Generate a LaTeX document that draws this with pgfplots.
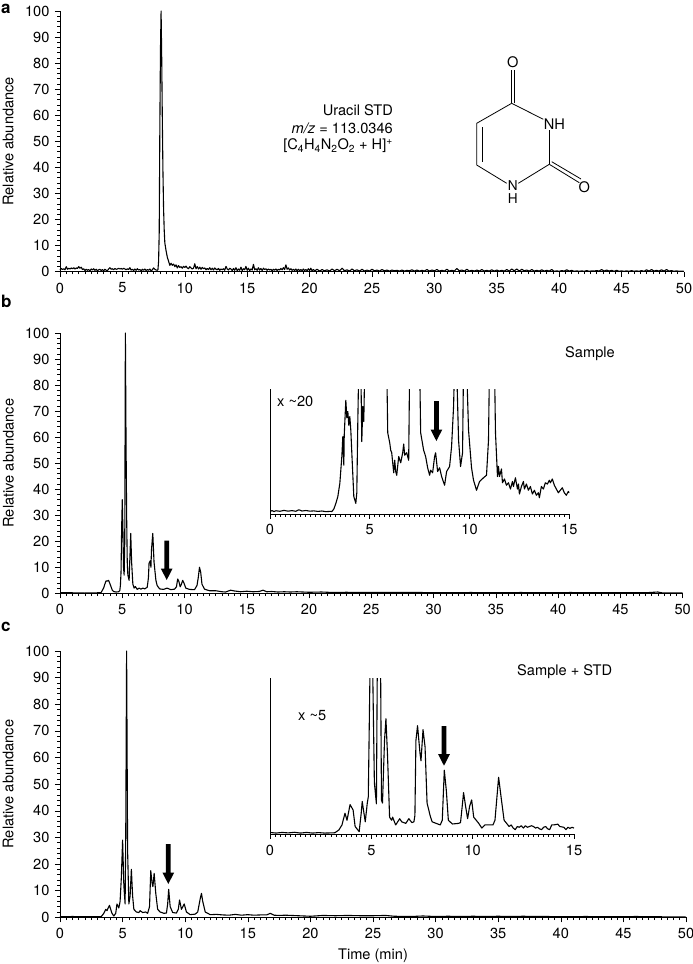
\documentclass[border=0pt]{standalone}
\usepackage{fontspec}
\setmainfont{TeX Gyre Heros}
\usepackage{pgfplots}
\pgfplotsset{compat=1.18}
\pgfplotsset{
  chrom/.style={
    scale only axis, anchor=south west,
    axis x line=bottom, axis y line=left,
    x axis line style={-}, y axis line style={-},
    tick align=outside, tick style={black,line width=0.6bp},
    major tick length=5bp, minor tick length=2.8bp,
    /pgf/number format/assume math mode=true,
    tick label style={font=\fontsize{14.6bp}{15bp}\selectfont},
    label style={font=\fontsize{14.6bp}{15bp}\selectfont},
    axis line style={line width=0.8bp},
    xmin=0, xmax=50, ymin=0, ymax=100,
    xtick={0,5,...,50}, ytick={0,10,...,100},
    minor x tick num=9, minor y tick num=4,
    xticklabel style={yshift=-1bp},
    yticklabel style={xshift=-0.5bp},
    ylabel style={at={(axis description cs:-0.083,0.5)},anchor=center,inner sep=0pt},
    clip=false,
  },
  inset/.style={
    scale only axis, anchor=south west,
    axis x line=bottom, axis y line=left,
    x axis line style={-}, y axis line style={-},
    tick align=outside, tick style={black,line width=0.6bp},
    major tick length=4.5bp, minor tick length=2.5bp,
    /pgf/number format/assume math mode=true,
    tick label style={font=\fontsize{14.6bp}{15bp}\selectfont},
    axis line style={line width=0.8bp},
    xmin=0, xmax=15, ymin=0, ymax=100,
    xtick={0,5,10,15}, ytick=\empty,
    minor x tick num=19,
    xticklabel style={yshift=-1bp},
  },
  trace/.style={black,line width=1.1bp,line join=round,no marks},
}
\newcommand{\bigarrow}[3]{% x centre, shaft top, tip
  \fill[black] (#1-2.4,#2) -- (#1+2.4,#2) -- (#1+2.4,#3-11.5) -- (#1+5.9,#3-11.5) -- (#1,#3) -- (#1-5.9,#3-11.5) -- (#1-2.4,#3-11.5) -- cycle;}
\begin{document}
\fontsize{14.6bp}{15bp}\selectfont
\begin{tikzpicture}[x=1bp,y=-1bp]
\useasboundingbox (0,0) rectangle (693,964);
% ---------- panel a
\begin{axis}[chrom, at={(60bp,-271.6bp)}, width=624bp, height=260.6bp, ylabel={Relative abundance}]
\addplot[trace] coordinates {
(0,0.6)(0.1,1.2)(0.2,0.8)(0.3,1.1)(0.4,0.7)(0.5,1.9)(0.6,0.9)(0.7,1.3)(0.8,1.0)(0.9,1.4)(1.0,1.1)(1.1,1.5)(1.2,1.0)(1.3,1.4)(1.4,1.2)(1.5,1.9)(1.6,1.3)(1.7,1.7)(1.8,0.8)(1.9,1.1)(2.0,0.4)(2.1,0.9)(2.2,0.5)(2.3,0.8)(2.4,0.3)(2.5,1.0)(2.6,0.6)(2.7,1.1)(2.8,0.5)(2.9,0.9)(3.0,0.3)(3.1,0.7)(3.2,0.9)(3.3,0.4)(3.4,0.8)(3.5,0.3)(3.6,0.9)(3.7,0.5)(3.8,0.4)(3.9,1.0)(4.0,1.5)(4.1,0.9)(4.2,1.1)(4.3,0.7)(4.4,1.2)(4.5,0.9)(4.6,1.0)(4.7,1.3)(4.8,1.0)(4.9,1.2)(5.0,0.9)(5.1,1.3)(5.2,1.0)(5.3,0.7)(5.4,1.1)(5.5,0.8)(5.6,1.5)(5.7,0.6)(5.8,0.9)(5.9,0.4)(6.0,1.0)(6.1,0.5)(6.2,1.1)(6.3,0.6)(6.4,0.8)(6.5,0.3)(6.6,0.9)(6.7,0.5)(6.8,1.0)(6.9,0.4)(7.0,0.8)(7.1,0.5)(7.2,1.0)(7.3,0.3)(7.4,0.7)(7.5,1.4)(7.6,0.9)(7.7,0.6)(7.8,0.5)(7.85,0.8)(7.9,4)(7.95,15)(8.0,55)(8.05,85)(8.1,100)(8.15,82)(8.2,58)(8.25,38)(8.3,24)(8.35,16)(8.4,11)(8.5,8)(8.6,5.5)(8.7,4)(8.8,2.4)(8.9,3.2)(9.0,2.4)(9.1,2.9)(9.2,1.9)(9.3,2.6)(9.4,1.4)(9.5,2.3)(9.6,1.6)(9.7,1.9)(9.8,1.3)(9.9,2.0)(10.0,1.6)(10.1,2.1)(10.2,1.4)(10.3,1.1)(10.4,1.9)(10.5,1.4)(10.6,1.0)(10.7,1.3)(10.8,3.0)(10.9,1.1)(11.0,1.9)(11.1,1.0)(11.2,1.7)(11.3,0.9)(11.4,1.6)(11.5,1.1)(11.6,1.4)(11.7,0.7)(11.8,1.2)(11.9,0.8)(12.0,1.5)(12.1,0.7)(12.2,1.3)(12.3,0.6)(12.4,1.4)(12.5,0.9)(12.6,0.7)(12.7,1.2)(12.8,0.5)(12.9,1.0)(13.0,0.7)(13.1,1.1)(13.2,0.5)(13.3,2.0)(13.4,1.0)(13.5,0.6)(13.6,1.3)(13.7,1.0)(13.8,0.4)(13.9,1.2)(14.0,0.5)(14.1,1.5)(14.2,0.4)(14.3,1.0)(14.4,0.5)(14.5,1.7)(14.6,0.4)(14.7,1.1)(14.8,0.7)(14.9,2.0)(15.0,0.5)(15.1,1.3)(15.2,0.4)(15.3,1.0)(15.4,0.6)(15.5,2.8)(15.6,0.7)(15.7,1.1)(15.8,0.5)(15.9,1.5)(16.0,0.6)(16.1,1.2)(16.2,0.4)(16.3,1.3)(16.4,0.8)(16.5,1.1)(16.6,0.5)(16.7,1.0)(16.8,0.6)(16.9,0.9)(17.0,0.3)(17.1,0.9)(17.2,0.5)(17.3,1.0)(17.4,0.4)(17.5,0.9)(17.6,0.6)(17.7,1.2)(17.8,0.7)(17.9,1.5)(18.0,0.8)(18.1,2.6)(18.2,0.9)(18.3,1.4)(18.4,0.6)(18.5,1.1)(18.6,0.5)(18.7,0.9)(18.8,0.4)(18.9,1.0)(19.0,0.3)(19.1,0.9)(19.2,0.4)(19.3,0.8)(19.4,0.3)(19.5,1.0)(19.6,0.4)(19.7,0.8)(19.8,0.3)(19.9,1.1)(20.0,0.4)(20.1,1.3)(20.2,0.3)(20.3,0.8)(20.4,0.3)(20.6,0.9)(20.8,0.2)(21.0,0.8)(21.2,0.3)(21.4,0.7)(21.6,0.2)(21.8,1.0)(22.0,0.3)(22.2,0.9)(22.4,0.3)(22.6,1.3)(22.8,0.3)(23.0,0.7)(23.2,0.2)(23.4,1.0)(23.6,0.3)(23.8,0.7)(24.0,0.2)(24.2,0.9)(24.4,0.2)(24.6,0.6)(24.8,0.2)(25.0,0.9)(25.2,0.3)(25.4,0.6)(25.6,0.2)(25.8,0.8)(26.0,0.3)(26.2,0.6)(26.4,0.2)(26.6,0.6)(26.8,0.3)(27.0,0.5)(27.2,0.2)(27.4,0.6)(27.6,0.2)(27.8,0.5)(28.0,0.3)(28.2,0.7)(28.4,0.2)(28.6,0.6)(28.8,0.2)(29.0,0.5)(29.2,0.2)(29.4,0.8)(29.6,0.2)(29.8,0.6)(30.0,0.3)(30.2,0.8)(30.4,0.2)(30.6,0.5)(30.8,0.2)(31.0,0.9)(31.2,0.2)(31.4,0.5)(31.6,0.2)(31.8,1.2)(32.0,0.3)(32.2,0.6)(32.4,0.2)(32.6,0.9)(32.8,0.2)(33.0,0.5)(33.2,0.2)(33.4,0.6)(33.6,0.2)(33.8,0.8)(34.0,0.2)(34.2,0.5)(34.4,0.2)(34.6,0.7)(34.8,0.2)(35.0,0.6)(35.2,0.2)(35.4,0.5)(35.6,0.2)(35.8,0.8)(36.0,0.2)(36.2,1.0)(36.4,0.3)(36.6,1.0)(36.8,0.2)(37.0,0.9)(37.2,0.3)(37.4,0.6)(37.6,0.2)(37.8,0.8)(38.0,0.2)(38.2,0.5)(38.4,0.2)(38.6,0.7)(38.8,0.2)(39.0,0.5)(39.2,0.2)(39.4,0.8)(39.6,0.1)(39.8,0.3)(40.0,0.1)(40.2,0.4)(40.4,0.2)(40.6,0.7)(40.8,0.2)(41.0,0.5)(41.2,0.1)(41.4,0.3)(41.6,0.1)(41.8,0.3)(42.0,0.1)(42.2,0.4)(42.4,0.1)(42.6,0.3)(42.8,0.2)(43.0,0.4)(43.2,0.2)(43.4,0.8)(43.6,0.2)(43.8,0.6)(44.0,0.2)(44.2,0.5)(44.4,0.1)(44.6,0.5)(44.8,0.1)(45.0,0.3)(45.2,0.1)(45.4,0.3)(45.6,0.1)(45.8,0.4)(46.0,0.1)(46.2,0.3)(46.4,0.1)(46.6,0.4)(46.8,0.1)(47.0,0.7)(47.2,0.2)(47.4,0.8)(47.6,0.2)(47.8,0.5)(48.0,0.2)(48.2,0.7)(48.4,0.2)(48.6,0.8)(48.8,0.2)(49.0,0.4)(49.2,0.1)(49.4,0.3)(49.6,0.1)(49.8,0.2)(50,0.1)
};
\end{axis}
% ---------- panel b
\begin{axis}[chrom, at={(60bp,-593.3bp)}, width=622.7bp, height=260.3bp, ylabel={Relative abundance}]
\addplot[trace] coordinates {
(0,0.2)(1,0.2)(2,0.1)(3,0.2)(3.3,0.3)(3.5,2)(3.6,3.5)(3.7,4.8)(3.8,4.7)(3.9,5)(4.0,3.8)(4.1,2.5)(4.2,1.2)(4.3,0.7)(4.5,0.5)(4.7,0.6)(4.8,1)(4.85,3)(4.9,8)(4.95,25)(5.0,36)(5.05,25)(5.1,10)(5.15,7)(5.2,20)(5.25,100)(5.3,60)(5.35,30)(5.4,12)(5.45,7)(5.55,5)(5.6,12)(5.68,23)(5.75,12)(5.85,3.5)(5.95,2)(6.05,2.6)(6.2,1.5)(6.35,2)(6.5,1.6)(6.65,2)(6.8,1.7)(7.0,2.3)(7.05,4)(7.1,6)(7.15,11.5)(7.25,12.5)(7.3,10)(7.35,17)(7.45,23)(7.55,12)(7.7,5)(7.8,3)(8,1.7)(8.3,1.5)(8.6,2)(8.9,1.4)(9.2,1.6)(9.35,2.5)(9.45,5.5)(9.55,4.5)(9.65,2.5)(9.75,3.5)(9.85,5)(9.95,4)(10.1,2)(10.4,1.5)(10.8,1.4)(11.0,3)(11.1,6)(11.2,10)(11.3,8)(11.4,3.5)(11.6,1.6)(12,1)(12.5,1)(13,0.6)(13.3,0.5)(13.7,1.2)(14,0.9)(14.5,0.6)(15,0.8)(15.5,0.6)(16,0.7)(16.3,1.2)(16.6,0.6)(17,0.7)(17.5,0.5)(18,0.6)(18.5,0.5)(19,0.6)(20,0.4)(21,0.5)(22,0.3)(23,0.4)(24,0.3)(25,0.3)(27,0.3)(29,0.3)(31,0.2)(33,0.3)(35,0.2)(37,0.3)(39,0.2)(41,0.3)(43,0.2)(45,0.2)(47,0.2)(48,0.5)(48.3,0.2)(50,0.1)
};
\end{axis}
\begin{axis}[inset, at={(270bp,-514bp)}, width=299.3bp, height=125bp]
\addplot[trace] coordinates {
(0,2)(0.1,2.8)(0.2,2)(0.3,2.6)(0.5,2.2)(0.7,2.9)(0.9,2.3)(1.1,2.7)(1.3,2.2)(1.45,3.4)(1.6,2.4)(1.8,2.8)(2.0,2.3)(2.2,2.5)(2.4,2.1)(2.6,2.4)(2.8,1.9)(3.0,2.1)(3.1,2)(3.2,4)(3.3,8.5)(3.4,14)(3.5,24.6)(3.6,46)(3.65,62)(3.7,39)(3.72,63)(3.8,91)(3.85,77)(3.9,82)(3.95,71)(4.0,78)(4.05,67)(4.1,49)(4.2,14)(4.3,8.5)(4.35,17)(4.4,73)(4.45,120)(4.55,120)(4.6,58)(4.65,86)(4.7,74)(4.75,120)(5.85,120)(5.9,65)(6.0,57)(6.05,51)(6.1,49)(6.15,41)(6.2,33)(6.25,43)(6.3,34)(6.35,31)(6.45,46)(6.55,41)(6.65,49)(6.7,56)(6.75,47)(6.85,49)(6.95,43)(7.0,120)(7.5,120)(7.55,65)(7.7,51)(7.8,46)(7.9,37)(8.0,31)(8.05,35)(8.15,33)(8.25,46)(8.3,49)(8.4,34)(8.5,37)(8.6,30)(8.75,23)(8.85,34)(9.0,38)(9.1,54)(9.2,86)(9.25,120)(9.35,120)(9.45,59)(9.55,38)(9.65,49)(9.7,120)(9.85,120)(9.95,67)(10.1,37)(10.2,27)(10.35,19)(10.5,26)(10.7,29)(10.85,31)(10.95,59)(11.0,120)(11.25,120)(11.3,65)(11.4,30)(11.45,38)(11.5,30)(11.6,36)(11.65,25)(11.75,28)(11.85,23)(11.95,25)(12.05,20)(12.15,26)(12.2,22)(12.3,29)(12.4,20)(12.45,24)(12.5,16)(12.6,22)(12.7,26)(12.75,20)(12.85,24)(12.95,19)(13.05,22)(13.15,16)(13.25,19)(13.35,15)(13.45,17)(13.5,13)(13.6,22)(13.7,20)(13.8,25)(13.9,24)(14.0,27)(14.05,25)(14.15,28)(14.25,23)(14.35,20)(14.45,17)(14.55,19)(14.65,21)(14.75,17)(14.85,15)(14.95,18)(15,17)
};
\end{axis}
% ---------- panel c
\begin{axis}[chrom, at={(60bp,-917.3bp)}, width=626bp, height=266.3bp, ylabel={Relative abundance}, xlabel={Time (min)}, xlabel style={at={(axis description cs:0.5,0)},anchor=center,yshift=-38.7bp}]
\addplot[trace] coordinates {
(0,0.2)(1,0.3)(2,0.2)(3,0.2)(3.3,0.3)(3.5,1.5)(3.65,3)(3.75,2.5)(3.95,4.5)(4.15,1.5)(4.3,0.5)(4.45,1.5)(4.55,5)(4.7,3.5)(4.8,6)(4.9,15)(5.0,29)(5.1,12)(5.2,5)(5.25,30)(5.32,100)(5.4,25)(5.5,5)(5.6,8)(5.7,18)(5.8,8)(5.9,3)(6.1,2)(6.3,1.8)(6.4,2.5)(6.6,1.8)(6.85,2)(7,1.5)(7.15,4)(7.25,17.5)(7.35,13)(7.42,11.5)(7.52,16.5)(7.65,9)(7.8,3)(8,2)(8.3,1.5)(8.5,1.6)(8.6,5)(8.68,10.5)(8.8,4)(9,1.8)(9.3,1.6)(9.45,3)(9.55,6.5)(9.7,3)(9.92,5)(10.1,2)(10.4,1)(10.8,1.2)(11,2)(11.2,7)(11.3,9)(11.4,6)(11.6,2)(12,1)(12.5,1.1)(13,0.9)(13.5,0.8)(14,1.1)(14.5,0.8)(15,1)(15.5,0.8)(16,0.9)(16.5,0.9)(16.8,1.5)(17.1,0.8)(17.5,0.7)(18,0.8)(19,0.6)(20,0.4)(21,0.7)(22,0.6)(23,0.7)(24,0.6)(25,0.6)(26,0.7)(26.7,0.4)(28,0.3)(29,0.5)(30,0.3)(31,0.4)(32,0.3)(33,0.4)(34,0.3)(35,0.4)(36,0.3)(37,0.4)(38,0.3)(39,0.3)(40,0.2)(42,0.3)(44,0.2)(46,0.3)(48,0.2)(50,0.1)
};
\end{axis}
\begin{axis}[inset, at={(270bp,-834.3bp)}, width=304bp, height=156.3bp]
\addplot[trace] coordinates {
(0,1.2)(0.3,0.8)(0.6,1.2)(0.9,0.9)(1.2,1.3)(1.5,0.8)(1.8,1.2)(2.1,0.8)(2.4,1.1)(2.7,0.8)(3.0,0.9)(3.2,1)(3.4,2.8)(3.55,6)(3.7,13.5)(3.8,9)(3.95,19)(4.1,15.6)(4.2,5)(4.4,1.7)(4.5,13.5)(4.55,21)(4.7,8)(4.8,20)(4.85,24)(4.95,120)(5.05,120)(5.15,33)(5.25,19.5)(5.3,120)(5.45,120)(5.5,22)(5.55,20)(5.65,60)(5.72,74)(5.8,50)(5.9,11)(6.0,9)(6.05,11)(6.2,6)(6.4,10)(6.5,8)(6.7,7)(6.85,10)(7.0,7.5)(7.1,8)(7.15,12)(7.2,60)(7.28,69.5)(7.4,52)(7.45,47)(7.55,67)(7.65,56)(7.75,20)(7.9,12)(8.0,8)(8.2,7)(8.4,6)(8.5,9)(8.6,41)(8.7,28)(8.8,9)(9.0,6.6)(9.3,7)(9.4,7.5)(9.5,20)(9.55,26.7)(9.65,18)(9.75,10)(9.85,18)(9.95,22)(10.05,11)(10.3,7)(10.45,4)(10.6,6)(11,6)(11.1,9)(11.28,36.5)(11.4,24)(11.55,9)(11.8,5)(11.9,6)(12,4)(12.1,3)(12.2,5)(12.3,4.5)(12.4,5.5)(12.5,4)(12.6,5.5)(12.7,4.5)(12.8,5)(12.9,5.5)(13,5)(13.1,4)(13.2,4.5)(13.3,3.5)(13.4,3)(13.5,4.5)(13.6,5)(13.7,3.5)(13.8,3)(13.9,6)(14,6)(14.2,6.5)(14.3,5)(14.5,4.5)(14.6,3)(14.7,4.5)(14.8,3.8)(14.9,4.5)(15,4)
};
\end{axis}
% ---------- annotations
\node[font=\fontsize{17bp}{17bp}\selectfont\bfseries,anchor=base west,inner sep=0pt] at (1,13) {a};
\node[font=\fontsize{17bp}{17bp}\selectfont\bfseries,anchor=base west,inner sep=0pt] at (1,307) {b};
\node[font=\fontsize{17bp}{17bp}\selectfont\bfseries,anchor=base west,inner sep=0pt] at (1,631) {c};
\node[anchor=east,inner sep=0pt] at (393,110) {Uracil STD};
\node[anchor=east,inner sep=0pt] at (393,128) {\textit{m/z} = 113.0346};
\node[anchor=east,inner sep=0pt] at (393,146) {[C\textsubscript{4}H\textsubscript{4}N\textsubscript{2}O\textsubscript{2} + H]\textsuperscript{+}};
\node[anchor=west,inner sep=0pt] at (565,354) {Sample};
\node[anchor=west,inner sep=0pt] at (517,672) {Sample + STD};
\node[anchor=west,inner sep=0pt] at (277,401) {x \textasciitilde20};
\node[anchor=west,inner sep=0pt] at (298,716) {x \textasciitilde5};
\bigarrow{166.7}{540.7}{580}
\bigarrow{436.4}{401}{441}
\bigarrow{168.3}{844}{884}
\bigarrow{444}{726}{765.7}
% uracil
\begin{scope}[line width=0.8bp,black]
\draw (511.7,103.3) -- (543.3,119.3);
\draw (549.3,130) -- (549.3,164.3);
\draw (549.3,164.3) -- (518.3,183.3);
\draw (506.7,183.3) -- (476.7,165) -- (476.7,123.3) -- (511.7,103.3);
\draw (482,161.7) -- (482,126.7);
\draw (511.7,103.3) -- (511.7,70);
\draw (514,103.3) -- (514,70);
\draw (549.3,164.3) -- (579.3,182.7);
\draw (551.7,161.7) -- (581,179);
\node[inner sep=0pt] at (512.7,61.7) {O};
\node[inner sep=0pt] at (554.3,124.3) {NH};
\node[inner sep=0pt,font=\fontsize{13.6bp}{14bp}\selectfont] at (512.7,186) {N};
\node[inner sep=0pt,font=\fontsize{13.6bp}{14bp}\selectfont] at (512.7,199) {H};
\node[inner sep=0pt] at (584.3,186.7) {O};
\end{scope}
\end{tikzpicture}
\end{document}
